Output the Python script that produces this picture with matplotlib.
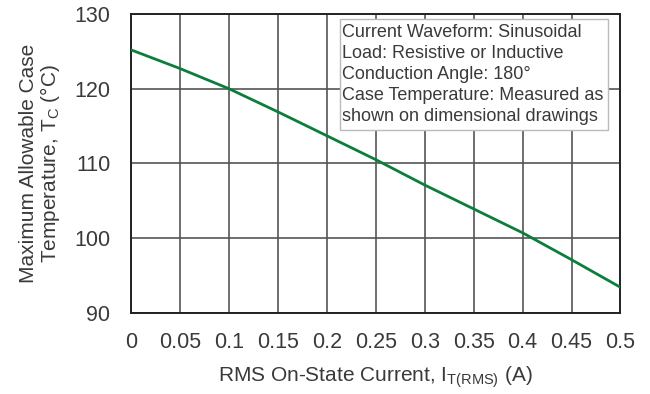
import matplotlib.pyplot as plt
from matplotlib.patches import Rectangle

plt.rcParams["font.family"] = ["Liberation Sans", "DejaVu Sans"]
plt.rcParams["mathtext.default"] = "regular"

# Derating curve: case temperature vs RMS on-state current
current = [0.0, 0.05, 0.1, 0.15, 0.2, 0.25, 0.3, 0.35, 0.4, 0.45, 0.5]
case_temp = [125.2, 122.7, 120.0, 116.9, 113.7, 110.5, 107.1, 103.9, 100.7, 97.1, 93.4]

x_ticks = [0, 0.05, 0.1, 0.15, 0.2, 0.25, 0.3, 0.35, 0.4, 0.45, 0.5]
x_tick_labels = ["0", "0.05", "0.1", "0.15", "0.2", "0.25", "0.3", "0.35", "0.4", "0.45", "0.5"]
y_ticks = [90, 100, 110, 120, 130]

conditions = [
    "Current Waveform: Sinusoidal",
    "Load: Resistive or Inductive",
    "Conduction Angle: 180\u00b0",
    "Case Temperature: Measured as",
    "shown on dimensional drawings",
]

text_color = "#3a3a3a"

fig = plt.figure(figsize=(6.5, 3.94), dpi=100)
ax = fig.add_axes([0.2015, 0.2063, 0.7531, 0.7582])

ax.plot(current, case_temp, color="#0a7f3c", linewidth=2.0, zorder=3)

ax.set_xlim(0, 0.5)
ax.set_ylim(90, 130)
ax.set_xticks(x_ticks)
ax.set_xticklabels(x_tick_labels)
ax.set_yticks(y_ticks)
ax.tick_params(axis="x", length=0, pad=14, labelsize=15.5, labelcolor=text_color)
ax.tick_params(axis="y", length=0, pad=15, labelsize=15.5, labelcolor=text_color)

ax.grid(True, color="#555555", linewidth=1.2)
ax.set_axisbelow(True)
for spine in ax.spines.values():
    spine.set_color("#222222")
    spine.set_linewidth(1.4)

ax.set_xlabel("RMS On-State Current, $I_{T(RMS)}$ (A)", fontsize=15, color=text_color, labelpad=8)
ax.set_ylabel("Maximum Allowable Case\nTemperature, $T_C$ (\u00b0C)", fontsize=15,
              color=text_color, labelpad=9, linespacing=1.0)

# Test conditions box over the grid
box = Rectangle((0.427, 0.61), 0.548, 0.373, transform=ax.transAxes,
                facecolor="white", edgecolor="#bbbbbb", linewidth=1.0, zorder=4)
ax.add_patch(box)
ax.text(0.432, 0.965, "\n".join(conditions), transform=ax.transAxes,
        ha="left", va="top", fontsize=13, color=text_color, linespacing=1.3, zorder=5)

fig.savefig("out.png", dpi=100)
